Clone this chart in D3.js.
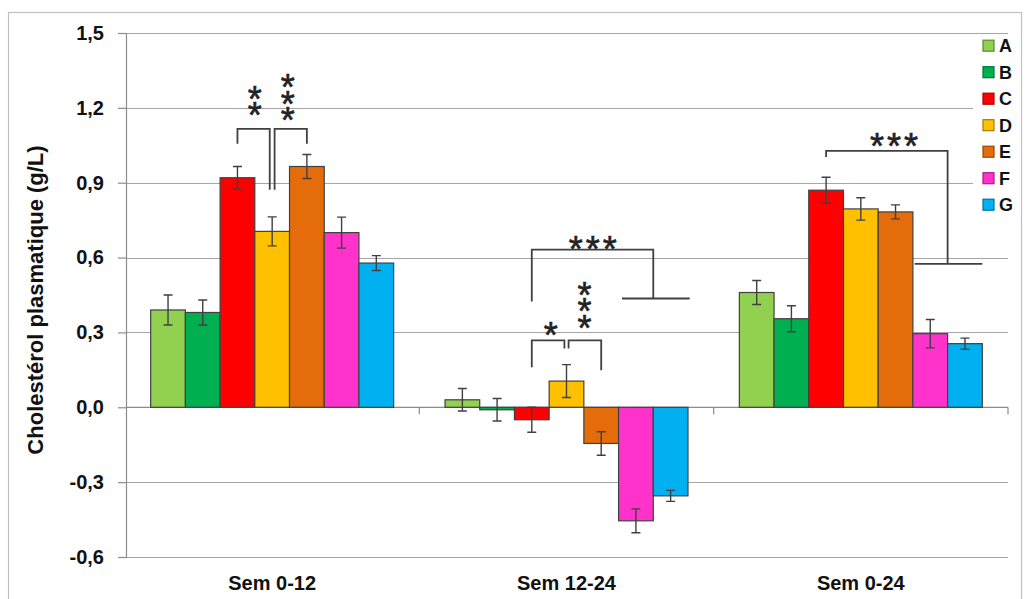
<!DOCTYPE html>
<html>
<head>
<meta charset="utf-8">
<script src="https://cdn.jsdelivr.net/npm/d3@7"></script>
<style>
  html, body { margin: 0; padding: 0; background: #fff; }
  svg { display: block; font-family: "Liberation Sans", Arial, sans-serif; }
</style>
</head>
<body>
<svg id="chart" width="1030" height="599"></svg>
<script>
// ---------- data ----------
const categories = ["Sem 0-12", "Sem 12-24", "Sem 0-24"];
const seriesNames = ["A", "B", "C", "D", "E", "F", "G"];
const seriesColors = ["#92d050", "#00b050", "#ff0000", "#ffc000", "#e46c0a", "#ff33cc", "#00b0f0"];
const valuesA = [0.39, 0.03, 0.46];
const valuesB = [0.38, -0.01, 0.355];
const valuesC = [0.92, -0.05, 0.87];
const valuesD = [0.705, 0.105, 0.795];
const valuesE = [0.965, -0.145, 0.783];
const valuesF = [0.70, -0.455, 0.295];
const valuesG = [0.578, -0.355, 0.255];
const errorsA = [0.06, 0.045, 0.048];
const errorsB = [0.05, 0.045, 0.052];
const errorsC = [0.045, 0.05, 0.052];
const errorsD = [0.058, 0.066, 0.045];
const errorsE = [0.048, 0.047, 0.028];
const errorsF = [0.062, 0.048, 0.057];
const errorsG = [0.03, 0.022, 0.022];
const yTicks = [-0.6, -0.3, 0.0, 0.3, 0.6, 0.9, 1.2, 1.5];
const yTickLabels = ["-0,6", "-0,3", "0,0", "0,3", "0,6", "0,9", "1,2", "1,5"];
const yTitle = "Cholestérol plasmatique (g/L)";

// significance brackets (x in bar units inside a group, y in g/L)
const brackets = [
  { cat: 0, x1: 2.5, x2: 3.43, top: 1.116, y1: 1.056, y2: 0.872 },
  { cat: 0, x1: 3.57, x2: 4.5, top: 1.116, y1: 0.872, y2: 1.056 },
  { cat: 1, x1: 2.5, x2: 3.44, top: 0.268, y1: 0.16, y2: 0.236 },
  { cat: 1, x1: 3.56, x2: 4.5, top: 0.268, y1: 0.236, y2: 0.148 },
  { cat: 1, x1: 2.5, x2: 6.0, top: 0.632, y1: 0.424, y2: 0.436 },
  { cat: 2, x1: 2.5, x2: 6.0, top: 1.028, y1: 1.003, y2: 0.575 }
];
const groupLines = [
  { cat: 1, x1: 5.1, x2: 7.05, y: 0.436 },
  { cat: 2, x1: 5.05, x2: 7.0, y: 0.575 }
];
const starStacks = [
  { cat: 0, x: 3.0, y: 1.26, n: 2, vertical: true },
  { cat: 0, x: 3.95, y: 1.308, n: 3, vertical: true },
  { cat: 1, x: 3.05, y: 0.312, n: 1, vertical: true },
  { cat: 1, x: 4.02, y: 0.476, n: 3, vertical: true },
  { cat: 1, x: 4.3, y: 0.665, n: 3, vertical: false },
  { cat: 2, x: 4.5, y: 1.079, n: 3, vertical: false }
];

const values = [valuesA, valuesB, valuesC, valuesD, valuesE, valuesF, valuesG];
const errors = [errorsA, errorsB, errorsC, errorsD, errorsE, errorsF, errorsG];

// ---------- layout ----------
const svg = d3.select("#chart");
const plotL = 126, plotR = 1008, plotT = 33, plotB = 557;
const ink = "#404040";

const y = d3.scaleLinear().domain([-0.6, 1.5]).range([plotB, plotT]);
const x = d3.scaleBand().domain(categories).range([125, plotR])
  .paddingInner(0.1745).paddingOuter(0.08725);
const xs = d3.scaleBand().domain(seriesNames).range([0, x.bandwidth()]);
const xu = d3.scaleLinear().domain([0, 7]).range([0, x.bandwidth()]);

// outer border
svg.append("rect").attr("x", 8.5).attr("y", 12.5).attr("width", 1013).attr("height", 620)
  .attr("fill", "none").attr("stroke", "#c0c0c0").attr("stroke-width", 1.2);

// gridlines
svg.append("g").selectAll("line").data(yTicks).join("line")
  .attr("x1", plotL).attr("x2", plotR)
  .attr("y1", d => Math.round(y(d)) + 0.5).attr("y2", d => Math.round(y(d)) + 0.5)
  .attr("stroke", "#a6a6a6").attr("stroke-width", 1.2);

// left axis
const yAxis = d3.axisLeft(y).tickValues(yTicks).tickSize(8).tickPadding(14)
  .tickFormat((d, i) => yTickLabels[i]);
const gy = svg.append("g").attr("transform", `translate(${plotL},0)`).call(yAxis);
gy.select(".domain").attr("stroke", "#8c8c8c").attr("stroke-width", 1.2);
gy.selectAll(".tick line").attr("stroke", "#8c8c8c").attr("stroke-width", 1.2);
gy.selectAll(".tick text").attr("font-size", 20).attr("font-weight", "bold")
  .attr("fill", "#111").attr("font-family", "'Liberation Sans', Arial, sans-serif");

// zero line with category boundary ticks
svg.append("line").attr("x1", plotL).attr("x2", plotR)
  .attr("y1", y(0)).attr("y2", y(0)).attr("stroke", "#8c8c8c").attr("stroke-width", 1.2);
const boundaries = d3.range(categories.length + 1).map(i => 125 + i * x.step());
svg.append("g").selectAll("line").data(boundaries.slice(1)).join("line")
  .attr("x1", d => d).attr("x2", d => d)
  .attr("y1", y(0)).attr("y2", y(0) + 7)
  .attr("stroke", "#8c8c8c").attr("stroke-width", 1.2);

// bars
const barData = [];
categories.forEach((c, ci) => seriesNames.forEach((s, si) => {
  barData.push({ c, s, si, v: values[si][ci], e: errors[si][ci] });
}));
const bars = svg.append("g");
bars.selectAll("rect").data(barData).join("rect")
  .attr("x", d => x(d.c) + xs(d.s))
  .attr("width", xs.bandwidth())
  .attr("y", d => y(Math.max(0, d.v)))
  .attr("height", d => Math.abs(y(d.v) - y(0)))
  .attr("fill", d => seriesColors[d.si])
  .attr("stroke", ink).attr("stroke-width", 1.2);

// error bars
const eb = svg.append("g").attr("stroke", ink).attr("stroke-width", 1.4).attr("fill", "none");
const cap = 4.5;
eb.selectAll("path").data(barData).join("path")
  .attr("d", d => {
    const cx = x(d.c) + xs(d.s) + xs.bandwidth() / 2;
    const y1 = y(d.v + d.e), y2 = y(d.v - d.e);
    return `M${cx - cap},${y1}H${cx + cap}M${cx},${y1}V${y2}M${cx - cap},${y2}H${cx + cap}`;
  });

// significance brackets
const bk = svg.append("g").attr("stroke", ink).attr("stroke-width", 1.8).attr("fill", "none");
bk.selectAll("path.b").data(brackets).join("path").attr("class", "b")
  .attr("d", d => {
    const gx = x(categories[d.cat]);
    return `M${gx + xu(d.x1)},${y(d.y1)}V${y(d.top)}H${gx + xu(d.x2)}V${y(d.y2)}`;
  });
bk.selectAll("line.g").data(groupLines).join("line").attr("class", "g")
  .attr("x1", d => x(categories[d.cat]) + xu(d.x1))
  .attr("x2", d => x(categories[d.cat]) + xu(d.x2))
  .attr("y1", d => y(d.y)).attr("y2", d => y(d.y));

// stars: one text element per stack; vertical stacks use vertical writing mode
const starSize = 36, starGap = 17, starBase = 0.58 * starSize;
const st = svg.append("g").attr("font-size", starSize).attr("fill", "#222")
  .attr("stroke", "#222").attr("stroke-width", 0.6)
  .attr("font-family", "'Liberation Sans', Arial, sans-serif");
starStacks.forEach(s => {
  const cx = x(categories[s.cat]) + xu(s.x);
  const cy = y(s.y);
  if (s.vertical) {
    st.append("text")
      .attr("x", cx).attr("y", cy - 14)
      .style("writing-mode", "vertical-rl")
      .style("text-orientation", "upright")
      .style("letter-spacing", (starGap - 1.15 * starSize) + "px")
      .text("*".repeat(s.n));
  } else {
    st.append("text").attr("x", cx).attr("y", cy + starBase)
      .attr("text-anchor", "middle").attr("letter-spacing", 3).text("*".repeat(s.n));
  }
});

// category labels
svg.append("g").selectAll("text").data(categories).join("text")
  .attr("x", d => x(d) + x.bandwidth() / 2)
  .attr("y", 590)
  .attr("text-anchor", "middle").attr("font-size", 20).attr("font-weight", "bold")
  .attr("fill", "#111").text(d => d);

// y title
svg.append("text")
  .attr("transform", "translate(43,300) rotate(-90)")
  .attr("text-anchor", "middle").attr("font-size", 22).attr("font-weight", "bold")
  .attr("fill", "#111").text(yTitle);

// legend
const lg = svg.append("g");
lg.append("rect").attr("x", 973).attr("y", 36).attr("width", 48).attr("height", 182).attr("fill", "#fff");
const items = lg.selectAll("g").data(seriesNames).join("g")
  .attr("transform", (d, i) => `translate(983,${45.7 + i * 26.5})`);
items.append("rect").attr("x", 0).attr("y", -5.5).attr("width", 11).attr("height", 11)
  .attr("fill", (d, i) => seriesColors[i])
  .attr("stroke", (d, i) => d3.color(seriesColors[i]).darker(1.2)).attr("stroke-width", 1.2);
items.append("text").attr("x", 16).attr("y", 0).attr("dy", "0.36em")
  .attr("font-size", 18).attr("font-weight", "bold").attr("fill", "#111").text(d => d);
</script>
</body>
</html>
